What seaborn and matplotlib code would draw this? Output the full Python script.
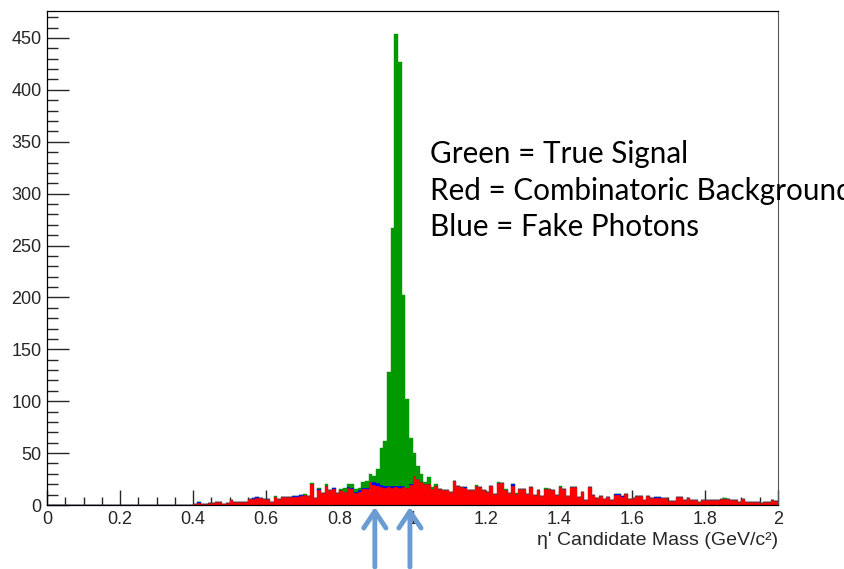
import numpy as np
import pandas as pd
import matplotlib
matplotlib.use("Agg")
import matplotlib.pyplot as plt
import seaborn as sns
from matplotlib.ticker import MultipleLocator, FixedLocator, FixedFormatter

# ---------------- data (200 bins of 0.01 GeV/c^2 from 0 to 2) ----------------
n_bins = 200
mass_range = (0.0, 2.0)

# Combinatoric background (red), per bin
red_counts = (
    [0] * 40 +
    [1, 2, 1, 1, 2, 2, 3, 3, 1, 2] +
    [5, 3, 3, 3, 3, 6, 6, 7, 7, 6] +
    [6, 3, 8, 6, 8, 8, 8, 8, 8, 9] +
    [10, 9, 20, 7, 14, 12, 18, 14, 15, 12] +
    [14, 13, 16, 15, 12, 13, 15, 15, 22, 19] +
    [18, 17, 16, 17, 16, 17, 16, 17, 16, 19] +
    [28, 25, 22, 20, 20, 15, 18, 15, 14, 14] +
    [13, 23, 18, 17, 16, 14, 14, 18, 17, 14] +
    [13, 18, 11, 21, 21, 14, 12, 18, 11, 15] +
    [15, 11, 17, 10, 14, 9, 15, 15, 14, 10] +
    [17, 15, 9, 17, 17, 8, 13, 5, 17, 10] +
    [7, 9, 6, 8, 5, 10, 10, 8, 11, 6] +
    [7, 9, 9, 5, 9, 7, 7, 7, 7, 7] +
    [4, 4, 8, 8, 5, 7, 5, 5, 3, 5] +
    [5, 5, 5, 5, 6, 6, 6, 5, 5, 3] +
    [6, 3, 3, 3, 3, 2, 3, 3, 5, 4]
)

# Fake photons (blue), per bin
blue_counts = (
    [0] * 40 +
    [0, 1, 0, 0, 0, 0, 0, 0, 0, 0] +
    [0, 0, 0, 0, 0, 0, 1, 1, 0, 0] +
    [0, 0, 0, 0, 0, 0, 0, 1, 1, 1] +
    [0, 0, 0, 0, 1, 0, 0, 0, 1, 0] +
    [0, 0, 1, 1, 1, 1, 1, 1, 0, 3] +
    [3, 2, 2, 1, 2, 1, 2, 1, 0, 1] +
    [0, 0, 0, 0, 0, 0, 0, 0, 0, 0] +
    [0, 0, 0, 0, 1, 0, 0, 0, 0, 0] +
    [0, 0, 0, 0, 0, 0, 0, 2, 0, 0] +
    [0, 0, 0, 0, 0, 0, 0, 0, 0, 0] +
    [0, 0, 0, 0, 0, 0, 0, 0, 0, 0] +
    [0, 0, 0, 0, 0, 1, 1, 1, 0, 0] +
    [0, 0, 0, 0, 0, 0, 1, 1, 0, 0] +
    [0] * 30
)

# True signal (green), per bin
green_counts = (
    [0] * 60 +
    [0, 0, 1, 0, 0, 0, 0, 0, 0, 0] +
    [1, 0, 1, 0, 1, 0, 2, 0, 0, 0] +
    [1, 3, 3, 4, 2, 2, 6, 7, 8, 6] +
    [14, 36, 44, 110, 249, 436, 409, 184, 86, 45] +
    [22, 13, 8, 2, 7, 2, 2, 0, 0, 0] +
    [0, 0, 0, 0, 0, 0, 0, 1, 0, 0] +
    [0, 0, 0, 1, 0, 1, 0, 0, 1, 0] +
    [0, 0, 0, 0, 0, 0, 1, 0, 0, 0] +
    [1, 0, 0, 0, 0, 0, 0, 0, 0, 0] +
    [0] * 30 +
    [0, 0, 0, 0, 0, 1, 0, 0, 0, 0] +
    [0] * 10
)

series_names = ["True Signal", "Fake Photons", "Combinatoric Background"]
series_colors = ["#009900", "#0000ff", "#ff0000"]

x_tick_values = [0, 0.2, 0.4, 0.6, 0.8, 1.0, 1.2, 1.4, 1.6, 1.8, 2.0]
x_tick_labels = ["0", "0.2", "0.4", "0.6", "0.8", "1", "1.2", "1.4", "1.6", "1.8", "2"]
y_tick_values = [0, 50, 100, 150, 200, 250, 300, 350, 400, 450]
arrow_positions = [0.897, 0.993]

legend_lines = ["Green = True Signal",
                "Red = Combinatoric Background",
                "Blue = Fake Photons"]

# ---------------- build table ----------------
bin_width = (mass_range[1] - mass_range[0]) / n_bins
centers = mass_range[0] + (np.arange(n_bins) + 0.5) * bin_width
df = pd.DataFrame({
    "mass": np.concatenate([centers, centers, centers]),
    "count": np.concatenate([green_counts, blue_counts, red_counts]).astype(float),
    "source": [series_names[0]] * n_bins + [series_names[1]] * n_bins + [series_names[2]] * n_bins,
})

# ---------------- plot ----------------
sns.set_style("white")
plt.rcParams["font.family"] = ["Liberation Sans", "DejaVu Sans"]

W, H = 844, 569
fig = plt.figure(figsize=(W / 100, H / 100), dpi=100)
ax_left, ax_right, ax_top, ax_bottom = 47, 778, 11, 505
ax = fig.add_axes([ax_left / W, 1 - ax_bottom / H, (ax_right - ax_left) / W, (ax_bottom - ax_top) / H])

sns.histplot(data=df, x="mass", weights="count", hue="source",
             hue_order=series_names, palette=dict(zip(series_names, series_colors)),
             multiple="stack", bins=n_bins, binrange=mass_range,
             element="bars", alpha=1, linewidth=0, legend=False, ax=ax)

for p in ax.patches:
    p.set_edgecolor(p.get_facecolor())
    p.set_linewidth(0.3)

ax.set_xlim(*mass_range)
ax.set_ylim(0, 476)
ax.xaxis.set_major_locator(FixedLocator(x_tick_values))
ax.xaxis.set_major_formatter(FixedFormatter(x_tick_labels))
ax.xaxis.set_minor_locator(MultipleLocator(0.05))
ax.yaxis.set_major_locator(FixedLocator(y_tick_values))
ax.yaxis.set_minor_locator(MultipleLocator(10))

ax.tick_params(axis="x", which="major", direction="in", length=10.8, width=1.0,
               labelsize=13, pad=4, bottom=True, top=False)
ax.tick_params(axis="x", which="minor", direction="in", length=5.5, width=1.0,
               bottom=True, top=False)
ax.tick_params(axis="y", which="major", direction="in", length=15.8, width=1.0,
               labelsize=13, pad=4, left=True, right=False)
ax.tick_params(axis="y", which="minor", direction="in", length=7.9, width=1.0,
               left=True, right=False)

for side in ["left", "bottom", "top"]:
    ax.spines[side].set_color("black")
    ax.spines[side].set_linewidth(0.9)
ax.spines["right"].set_color("#555555")
ax.spines["right"].set_linewidth(0.8)

ax.set_ylabel("")
ax.set_xlabel("\u03b7' Candidate Mass (GeV/c\u00b2)", fontsize=14, loc="right", labelpad=3)

for xp in arrow_positions:
    ax.annotate("", xy=(xp, H - 507), xycoords=("data", "figure pixels"),
                xytext=(xp, 2), textcoords=("data", "figure pixels"),
                arrowprops=dict(arrowstyle="->,head_length=0.6,head_width=0.4",
                                mutation_scale=20, color="#6a9bd3", lw=3.5,
                                shrinkA=0, shrinkB=0),
                annotation_clip=False)

baselines = [163, 199.5, 236]
for txt, yb in zip(legend_lines, baselines):
    fig.text(430 / W, 1 - yb / H, txt, fontsize=21.3, family=["Lato", "DejaVu Sans"],
             va="baseline", ha="left", color="black")

fig.savefig("out.png", dpi=100)
